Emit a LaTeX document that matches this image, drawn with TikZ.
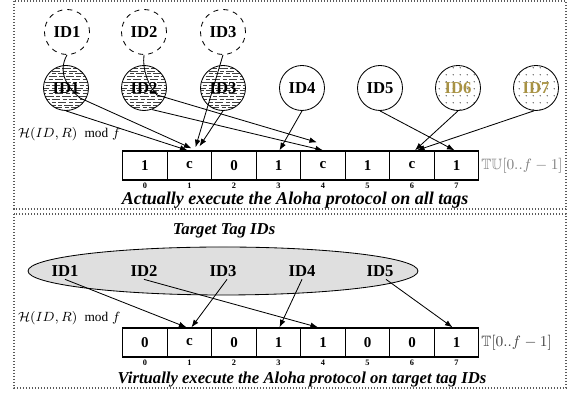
\documentclass[tikz,border=0pt]{standalone}
\usepackage{amsmath}
\usepackage{amssymb}
\usepackage{fontspec}
\setmainfont{Liberation Serif}
\usepackage{tikz}
\usetikzlibrary{arrows.meta,patterns.meta,shapes.geometric,positioning}

\definecolor{unknowntag}{RGB}{168,146,68}

% brick-like horizontal hatching inside a tag circle
\newcommand{\brickfill}[1]{%
  \begin{scope}
    \clip (#1) circle (22.5);
    \foreach \k [evaluate=\k as \ph using {mod(\k*7+40,5)*1.9}] in {-9,...,9}
      \draw[line width=0.55pt, black!75, dash pattern=on 5pt off 1.5pt on 2.5pt off 1.2pt, dash phase=\ph pt]
        ([xshift=-15pt,yshift={1.7*\k pt}]#1) -- ++(50,0);
  \end{scope}}

\begin{document}
\begin{tikzpicture}[x=0.6pt, y=-0.6pt, every node/.style={font=\normalsize}]
    \tikzstyle{frame} = [densely dotted, gray!70!black, line width=0.8pt]
    \tikzstyle{tag} = [circle, draw=black, line width=0.5pt, minimum size=27pt,
        inner sep=0pt, font=\bfseries]
    \tikzstyle{ghost} = [tag, dashed]
    \tikzstyle{cell} = [rectangle, draw=black, line width=0.8pt, minimum width=26.7pt,
        minimum height=17.4pt, inner sep=0pt, font=\small\bfseries]
    \tikzstyle{idx} = [font=\tiny\bfseries, inner sep=0pt]
    \tikzstyle{caption} = [font=\bfseries\itshape, inner sep=0pt]
    \tikzstyle{link} = [line width=0.5pt, -{Latex[length=1.6mm,width=1.2mm]}]
    \useasboundingbox (0,0) rectangle (574,396);

    % upper panel: all tags answer
    \draw[frame] (14,1) rectangle (566,209);
    \node (d1) [ghost] at (67,32) {ID1};
    \node (d2) [ghost] at (144,32) {ID2};
    \node (d3) [ghost] at (223,32) {ID3};
    \brickfill{66,88}
    \brickfill{144,88}
    \brickfill{223,88}
    \node (h1) [tag] at (66,88) {ID1};
    \node (h2) [tag] at (144,88) {ID2};
    \node (h3) [tag] at (223,88) {ID3};
    \node (h4) [tag] at (302,88) {ID4};
    \node (h5) [tag] at (380,88) {ID5};
    \node (h6) [tag, pattern={Dots[distance=4pt,radius=0.35pt]}, text=unknowntag] at (458,88) {ID6};
    \node (h7) [tag, pattern={Dots[distance=4pt,radius=0.35pt]}, text=unknowntag] at (536,88) {ID7};

    \foreach \v [count=\i from 0] in {1,c,0,1,c,1,c,1} {
        \node (c\i) [cell] at ({145+44.5*\i},165.5) {\v};
        \node (ci\i) [idx] at ({145+44.5*\i},186) {\i};
    }
    \node (hashA) [anchor=west, inner sep=1pt, font=\footnotesize] at (16,134) {$\mathcal{H}(ID,R)\ \bmod f$};
    \node (frameA) [anchor=west, inner sep=1pt, text=gray, font=\small] at (c7.east) {$\mathbb{TU}[0..f-1]$};
    \node (capA) [caption, font=\fontsize{10.8}{13}\selectfont\bfseries\itshape] at (295,200)
        {Actually execute the Aloha protocol on all tags};

    \draw [link] (d1.south) .. controls +(-10,18) and +(-12,-10) .. ([xshift=8.4pt,yshift=-6pt]h1.center)
        -- ([xshift=1.2pt,yshift=1.2pt]c1.north);
    \draw [link] (h1.south) -- ([xshift=-1.2pt]c1.north);
    \draw [link] (d2.south) .. controls +(-2,15) and +(-8,-8) .. ([xshift=7.8pt,yshift=-4.2pt]h2.center)
        -- ([xshift=-3.6pt,yshift=4.8pt]c4.north);
    \draw [link] (h2.-70) -- (c4.north);
    \draw [link] (d3.south) -- ([xshift=3.6pt,yshift=1.8pt]c1.north);
    \draw [link] (h3.south) -- ([xshift=6pt,yshift=2.4pt]c1.north);
    \draw [link] (h4.south) -- ([xshift=0.6pt]c3.north);
    \draw [link] (h5.south) -- ([xshift=-1.2pt]c7.north);
    \draw [link] (h6.south) -- ([xshift=1.8pt]c6.north);
    \draw [link] (h7.-95) -- ([xshift=3pt]c6.north);

    % lower panel: only the target tags
    \draw[frame] (14,214) rectangle (566,388);
    \node (tgt) [caption] at (224,231) {Target Tag IDs};
    \node (pool) [ellipse, draw=black, line width=0.5pt, fill=gray!25,
        minimum width=234pt, minimum height=28.8pt] at (223,271) {};
    \foreach \n/\x in {1/65,2/144,3/223,4/302,5/380}
        \node (v\n) [font=\bfseries, inner sep=1.5pt] at (\x,271) {ID\n};

    \foreach \v [count=\i from 0] in {0,c,0,1,1,0,0,1} {
        \node (b\i) [cell] at ({145+44.5*\i},342.5) {\v};
        \node (bi\i) [idx] at ({145+44.5*\i},363) {\i};
    }
    \node (hashB) [anchor=west, inner sep=1pt, font=\footnotesize] at (16,318) {$\mathcal{H}(ID,R)\ \bmod f$};
    \node (frameB) [anchor=west, inner sep=1pt, text=black!75, font=\small] at (b7.east) {$\mathbb{T}[0..f-1]$};
    \node (capB) [caption] at (302,380) {Virtually execute the Aloha protocol on target tag IDs};

    \draw [link] (v1.south) -- ([xshift=-1.8pt]b1.north);
    \draw [link] (v2.south) -- ([xshift=-3pt]b4.north);
    \draw [link] ([xshift=2.4pt]v3.south) -- ([xshift=1.2pt]b1.north);
    \draw [link] (v4.south) -- ([xshift=0.6pt]b3.north);
    \draw [link] ([xshift=3.6pt]v5.south) -- ([xshift=-2.4pt]b7.north);
\end{tikzpicture}
\end{document}
